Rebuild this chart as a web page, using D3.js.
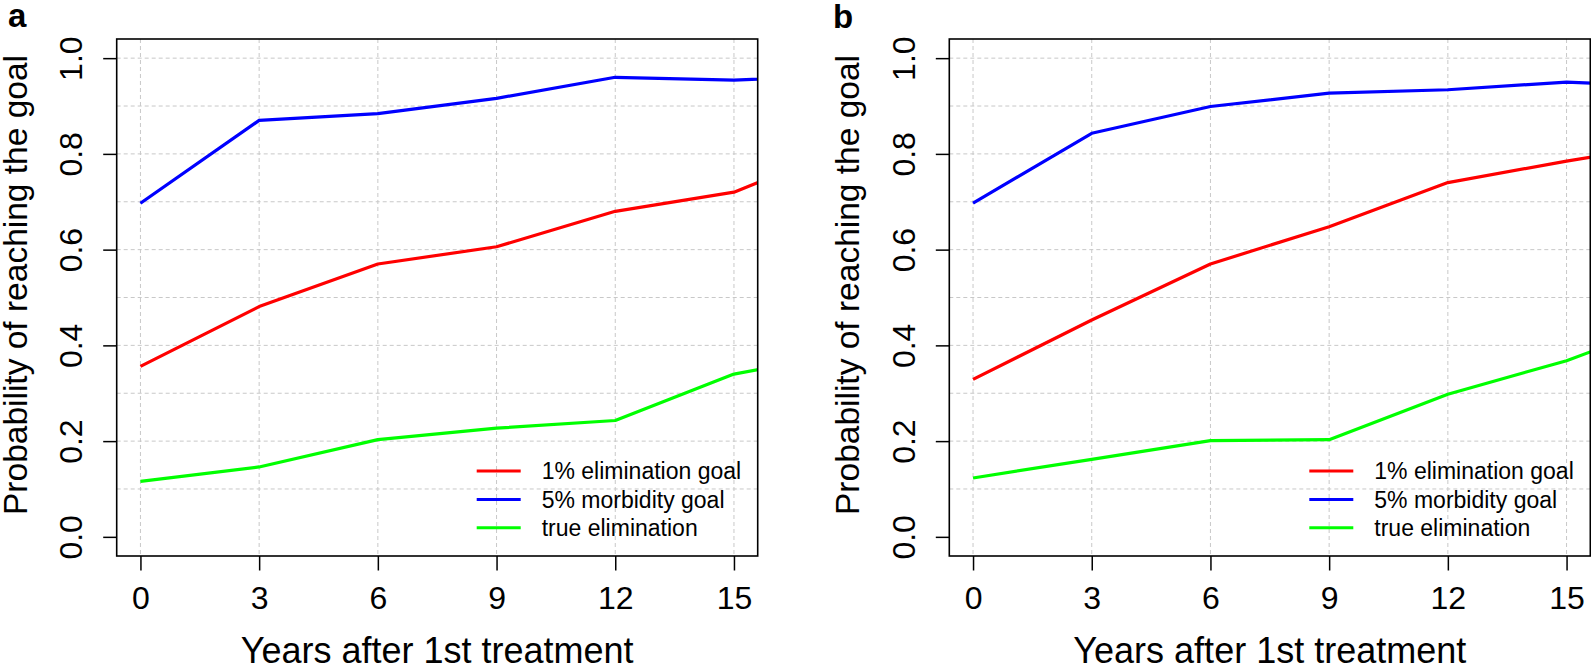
<!DOCTYPE html>
<html>
<head>
<meta charset="utf-8">
<script src="https://cdn.jsdelivr.net/npm/d3@7"></script>
<style>
  html, body { margin: 0; padding: 0; background: #fff; }
  svg { display: block; }
  text { font-family: "Liberation Sans", Arial, Helvetica, sans-serif; fill: #000; }
</style>
</head>
<body>
<svg id="chart" width="1591" height="666"></svg>
<script>
// ---------------- data ----------------
const years = [0, 3, 6, 9, 12, 15, 18];

const panelLabels = ["a", "b"];

// panel a
const aElimination = [0.356, 0.481, 0.570, 0.606, 0.680, 0.720, 0.820];
const aMorbidity   = [0.697, 0.870, 0.884, 0.916, 0.960, 0.954, 0.964];
const aTrueElim    = [0.116, 0.146, 0.203, 0.227, 0.243, 0.340, 0.385];

// panel b
const bElimination = [0.329, 0.453, 0.570, 0.648, 0.740, 0.785, 0.825];
const bMorbidity   = [0.697, 0.843, 0.899, 0.927, 0.934, 0.950, 0.940];
const bTrueElim    = [0.123, 0.162, 0.201, 0.203, 0.298, 0.368, 0.460];

const seriesNames  = ["1% elimination goal", "5% morbidity goal", "true elimination"];
const seriesColors = ["#ff0000", "#0000ff", "#00ff00"];

const xTicks = [0, 3, 6, 9, 12, 15];
const yTicks = [0, 0.2, 0.4, 0.6, 0.8, 1.0];
const yGrid  = [0.1, 0.2, 0.3, 0.4, 0.5, 0.6, 0.7, 0.8, 0.9, 1.0];

const xTitle = "Years after 1st treatment";
const yTitle = "Probability of reaching the goal";

const panels = [
  { label: panelLabels[0], series: [aElimination, aMorbidity, aTrueElim] },
  { label: panelLabels[1], series: [bElimination, bMorbidity, bTrueElim] }
];

// ---------------- layout ----------------
const svg = d3.select("#chart");
svg.append("rect").attr("width", 1591).attr("height", 666).attr("fill", "#fff");

const panelW = 641, plotTop = 39, plotBottom = 556;
const panelLefts = [116.7, 949.3];
const labelPos = [{x: 8, y: 27}, {x: 833, y: 28}];

panels.forEach((p, i) => {
  const left = panelLefts[i], right = left + panelW;
  const g = svg.append("g");

  const x = d3.scaleLinear().domain([-0.6, 15.6]).range([left, right]);
  const y = d3.scaleLinear().domain([-0.04, 1.04]).range([plotBottom, plotTop]);

  // grid
  g.append("g").selectAll("line").data(yGrid).join("line")
    .attr("x1", left).attr("x2", right)
    .attr("y1", d => y(d)).attr("y2", d => y(d))
    .attr("stroke", "#c8c8c8").attr("stroke-width", 1).attr("stroke-dasharray", "4,3");
  g.append("g").selectAll("line").data(xTicks).join("line")
    .attr("x1", d => x(d)).attr("x2", d => x(d))
    .attr("y1", plotTop).attr("y2", plotBottom)
    .attr("stroke", "#c8c8c8").attr("stroke-width", 1).attr("stroke-dasharray", "4,3");

  // clip
  const clipId = "clip" + i;
  svg.append("defs").append("clipPath").attr("id", clipId)
    .append("rect").attr("x", left).attr("y", plotTop).attr("width", panelW).attr("height", plotBottom - plotTop);

  // lines
  const line = d3.line().x((d, k) => x(years[k])).y(d => y(d));
  p.series.forEach((s, k) => {
    g.append("path").datum(s)
      .attr("clip-path", `url(#${clipId})`)
      .attr("d", line)
      .attr("fill", "none")
      .attr("stroke", seriesColors[k])
      .attr("stroke-width", 3.2)
      .attr("stroke-linejoin", "round")
      .attr("stroke-linecap", "butt");
  });

  // box
  g.append("rect").attr("x", left).attr("y", plotTop)
    .attr("width", panelW).attr("height", plotBottom - plotTop)
    .attr("fill", "none").attr("stroke", "#000").attr("stroke-width", 1.6);

  // y axis
  const gy = g.append("g").attr("transform", `translate(${left},0)`)
    .call(d3.axisLeft(y).tickValues(yTicks).tickSize(13.5).tickFormat(d3.format(".1f")));
  gy.select(".domain").remove();
  gy.selectAll(".tick line").attr("stroke", "#000").attr("stroke-width", 1.5);
  gy.selectAll(".tick text")
    .attr("x", null).attr("dy", null)
    .attr("transform", "translate(-34.5,0) rotate(-90)")
    .attr("text-anchor", "middle")
    .attr("font-size", 32)
    .attr("font-family", "'Liberation Sans', Arial, sans-serif")
    .attr("fill", "#000");

  // x axis
  const gx = g.append("g").attr("transform", `translate(0,${plotBottom})`)
    .call(d3.axisBottom(x).tickValues(xTicks).tickSize(14.5).tickFormat(d3.format("d")));
  gx.select(".domain").remove();
  gx.selectAll(".tick line").attr("stroke", "#000").attr("stroke-width", 1.5);
  gx.selectAll(".tick text")
    .attr("y", 53).attr("dy", null)
    .attr("text-anchor", "middle")
    .attr("font-size", 32)
    .attr("font-family", "'Liberation Sans', Arial, sans-serif")
    .attr("fill", "#000");

  // axis titles
  g.append("text")
    .attr("x", (left + right) / 2).attr("y", 663)
    .attr("text-anchor", "middle").attr("font-size", 36)
    .text(xTitle);
  g.append("text")
    .attr("transform", `translate(${left - 90},285) rotate(-90)`)
    .attr("text-anchor", "middle").attr("font-size", 33.5)
    .text(yTitle);

  // panel label
  g.append("text").attr("x", labelPos[i].x).attr("y", labelPos[i].y)
    .attr("font-size", 33).attr("font-weight", "bold")
    .text(p.label);

  // legend
  const lg = g.append("g").attr("transform", `translate(${left + 360},471)`);
  seriesNames.forEach((name, k) => {
    const row = lg.append("g").attr("transform", `translate(0,${k * 28.4})`);
    row.append("line").attr("x1", 0).attr("x2", 44).attr("y1", 0).attr("y2", 0)
      .attr("stroke", seriesColors[k]).attr("stroke-width", 3);
    row.append("text").attr("x", 65).attr("y", 8.3)
      .attr("font-size", 23).text(name);
  });
});
</script>
</body>
</html>
